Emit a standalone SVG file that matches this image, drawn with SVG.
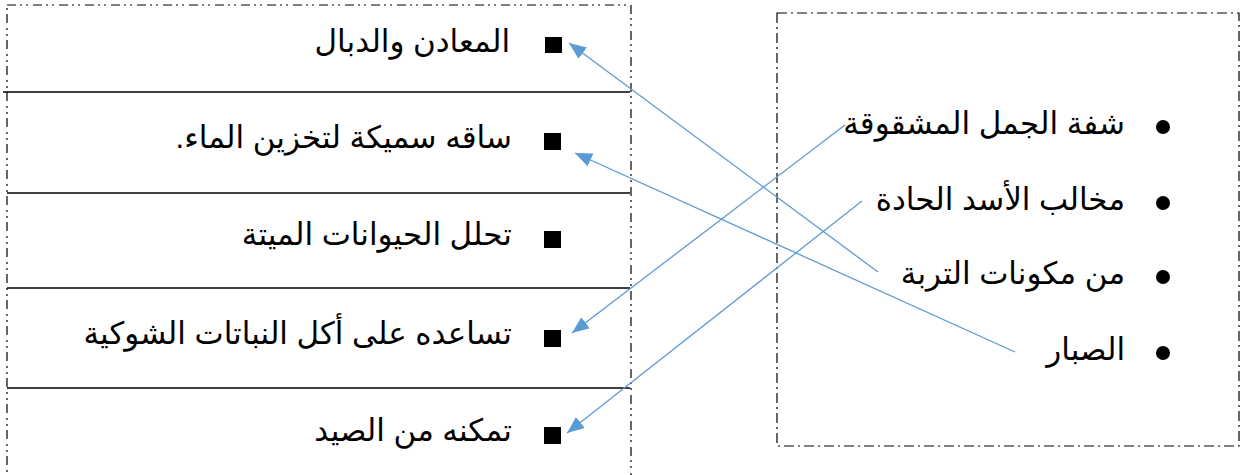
<svg xmlns="http://www.w3.org/2000/svg" width="1241" height="475" viewBox="0 0 1241 475">
<style>
.t{font-family:"Liberation Sans","DejaVu Sans",sans-serif;font-size:31px;fill:#000;direction:rtl;text-anchor:start}
.row{stroke:#000;stroke-width:1.3;fill:none}
.bl{fill:none;stroke:#000;stroke-width:1.2;stroke-dasharray:9 4 2 4 2 5}
.br{fill:none;stroke:#000;stroke-width:1.2;stroke-dasharray:10 4 2 4}
.c{stroke:#5B9BD5;stroke-width:1.3;fill:none;marker-end:url(#ah)}
</style>
<defs>
<marker id="ah" markerUnits="userSpaceOnUse" markerWidth="18" markerHeight="14" viewBox="0 0 18 14" refX="17" refY="7" orient="auto">
<path d="M0,0 L17,7 L0,14 z" fill="#5B9BD5"/>
</marker>
</defs>
<rect width="1241" height="475" fill="#fff"/>
<g id="left-box">
<rect class="bl" x="7" y="5" width="624" height="490"/>
<line class="row" x1="3" y1="92" x2="630" y2="92"/>
<line class="row" x1="7" y1="193" x2="630" y2="193"/>
<line class="row" x1="7" y1="288" x2="630" y2="288"/>
<line class="row" x1="7" y1="388" x2="630" y2="388"/>
</g>
<g id="right-box">
<rect class="br" x="777" y="13" width="462" height="433"/>
</g>
<g id="l1"><rect x="545" y="37" width="17" height="16"/><text class="t" x="510" y="52">المعادن والدبال</text></g>
<g id="l2"><rect x="544" y="133" width="17" height="17"/><text class="t" x="512" y="148">ساقه سميكة لتخزين الماء.</text></g>
<g id="l3"><rect x="544" y="231" width="17" height="17"/><text class="t" x="512" y="245">تحلل الحيوانات الميتة</text></g>
<g id="l4"><rect x="544" y="330" width="17" height="17"/><text class="t" x="512" y="344">تساعده على أكل النباتات الشوكية</text></g>
<g id="l5"><rect x="544" y="427" width="17" height="17"/><text class="t" x="512" y="441">تمكنه من الصيد</text></g>
<g id="r1"><circle cx="1163" cy="127" r="7"/><text class="t" x="1125" y="134">شفة الجمل المشقوقة</text></g>
<g id="r2"><circle cx="1163" cy="203" r="7"/><text class="t" x="1125" y="210">مخالب الأسد الحادة</text></g>
<g id="r3"><circle cx="1163" cy="277" r="7"/><text class="t" x="1125" y="284">من مكونات التربة</text></g>
<g id="r4"><circle cx="1163" cy="353" r="7"/><text class="t" x="1125" y="360">الصبار</text></g>
<g id="connectors">
<path class="c" d="M878,272 L569,43"/>
<path class="c" d="M1015,352 L575,153"/>
<path class="c" d="M845,125 L572,333"/>
<path class="c" d="M862,201 L567,433"/>
</g>
</svg>
